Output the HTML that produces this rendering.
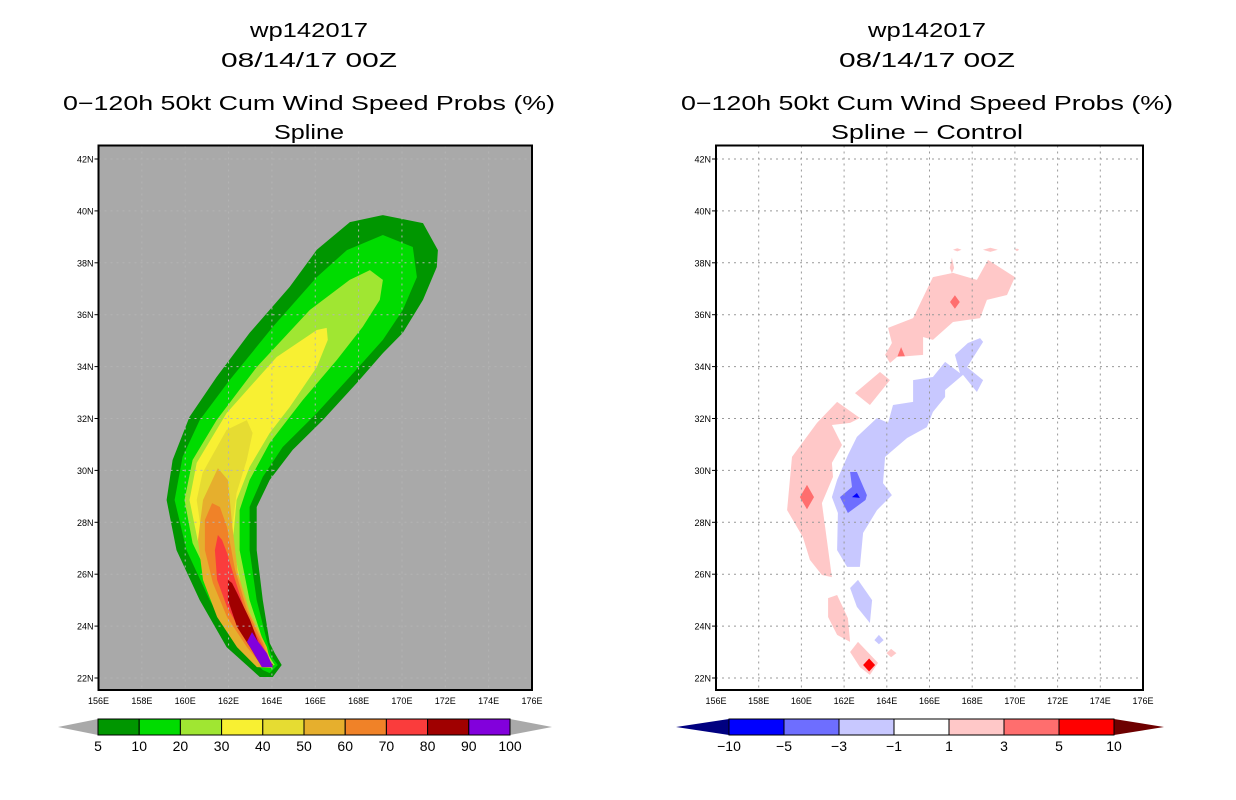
<!DOCTYPE html>
<html><head><meta charset="utf-8"><style>
html,body{margin:0;padding:0;background:#fff;}
svg{display:block;font-family:"Liberation Sans",sans-serif;}
</style></head><body>
<svg id="s" width="1236" height="800" viewBox="0 0 1236 800" xmlns="http://www.w3.org/2000/svg">
<g font-size="20" text-anchor="middle" fill="#000">
<text x="309" y="37" textLength="118" lengthAdjust="spacingAndGlyphs">wp142017</text>
<text x="309" y="67" textLength="176" lengthAdjust="spacingAndGlyphs">08/14/17 00Z</text>
<text x="309" y="110" textLength="492" lengthAdjust="spacingAndGlyphs">0−120h 50kt Cum Wind Speed Probs (%)</text>
<text x="309" y="139" textLength="70" lengthAdjust="spacingAndGlyphs">Spline</text>
</g>
<g font-size="20" text-anchor="middle" fill="#000">
<text x="927" y="37" textLength="118" lengthAdjust="spacingAndGlyphs">wp142017</text>
<text x="927" y="67" textLength="176" lengthAdjust="spacingAndGlyphs">08/14/17 00Z</text>
<text x="927" y="110" textLength="492" lengthAdjust="spacingAndGlyphs">0−120h 50kt Cum Wind Speed Probs (%)</text>
<text x="927" y="139" textLength="192" lengthAdjust="spacingAndGlyphs">Spline − Control</text>
</g>
<g id="L"></g>
<g id="R"></g>
</svg>
<script>
const latTicks=[22,24,26,28,30,32,34,36,38,40,42];
const lonTicks=[156,158,160,162,164,166,168,170,172,174,176];
const leftLevels=["5","10","20","30","40","50","60","70","80","90","100"];
const leftColors=["#009600","#00dc00","#a0e632","#f8f032","#e6dc32","#e6af2d","#f08228","#fa3c3c","#a00000","#8200dc"];
const rightLevels=["−10","−5","−3","−1","1","3","5","10"];
const rightColors=["#0000ff","#6e6eff","#c8c8ff","#ffffff","#ffc8c8","#ff6e6e","#ff0000"];
// probability contours (lon,lat)
const p5=[[164.45,22.5],[164.04,22.04],[163.44,22.04],[161.91,23.19],[160.67,25.0],[159.6,26.93],[159.14,28.86],[159.42,30.4],[160.2,32.06],[161.45,33.6],[162.97,35.3],[164.82,37.07],[166.07,38.5],[167.6,39.57],[169.12,39.84],[170.97,39.53],[171.66,38.49],[171.61,37.84],[170.97,36.57],[170.04,35.3],[169.12,34.52],[167.92,33.37],[166.35,31.94],[164.96,30.79],[163.9,29.63],[163.3,28.59],[163.3,26.93],[163.58,25.0],[163.9,23.35],[164.13,22.96]];
const p10=[[164.27,22.5],[163.9,22.19],[163.58,22.31],[162.19,23.46],[161.13,25.0],[160.06,26.93],[159.51,28.86],[159.88,30.52],[160.67,31.94],[162.05,33.48],[164.04,35.53],[166.07,37.45],[167.46,38.49],[169.12,39.07],[170.5,38.61],[170.69,37.45],[170.04,36.18],[169.12,35.03],[167.59,33.6],[166.07,32.21],[164.5,30.9],[163.58,29.75],[162.97,28.59],[162.97,26.93],[163.3,25.0],[163.76,23.46],[163.99,22.81]];
const p20=[[164.13,22.5],[163.58,22.42],[162.51,23.73],[161.45,25.28],[160.34,27.2],[159.97,28.86],[160.34,30.4],[161.45,31.94],[163.3,33.98],[165.75,36.18],[167.59,37.34],[168.52,37.72],[169.12,37.34],[168.98,36.57],[168.19,35.53],[166.99,34.25],[165.42,32.71],[163.9,31.06],[162.97,29.63],[162.51,28.47],[162.51,26.93],[162.97,25.0],[163.58,23.46],[163.9,22.81]];
const p30=[[164.04,22.5],[163.67,22.5],[162.65,23.85],[161.59,25.39],[160.57,27.32],[160.2,28.86],[160.53,30.29],[161.91,32.21],[164.22,34.37],[166.07,35.41],[166.53,35.49],[166.58,35.03],[166.07,33.98],[164.82,32.44],[163.9,31.44],[162.97,30.13],[162.37,28.86],[162.19,27.2],[162.65,25.28],[163.44,23.46],[163.81,22.81]];
const p40=[[164.02,22.42],[163.6,22.42],[162.84,23.97],[161.73,25.51],[160.8,27.32],[160.53,28.86],[160.8,29.9],[161.91,31.56],[162.84,31.94],[163.11,31.44],[162.84,30.4],[162.37,29.13],[162.14,27.59],[162.51,25.39],[163.3,23.73],[163.9,22.8]];
const p50=[[161.51,30.09],[160.82,28.86],[160.59,27.32],[160.82,25.78],[161.47,24.35],[162.39,23.19],[163.31,22.42],[164.0,22.39],[163.77,23.19],[162.99,24.5],[162.43,26.05],[162.16,27.97],[161.97,29.63]];
const p60=[[161.24,28.74],[160.91,28.09],[160.91,26.93],[161.28,25.66],[161.93,24.35],[162.85,23.19],[163.59,22.42],[164.0,22.42],[163.59,23.35],[162.85,24.62],[162.3,26.16],[161.93,27.82],[161.6,28.59]];
const p70=[[161.51,27.51],[161.37,26.93],[161.47,25.78],[161.93,24.74],[162.62,23.73],[163.45,22.69],[164.05,22.42],[163.59,23.19],[162.85,24.35],[162.3,25.78],[161.93,26.82],[161.7,27.32]];
const p80=[[161.97,25.78],[161.97,25.01],[162.39,23.97],[162.99,23.19],[163.54,22.42],[164.05,22.5],[163.45,23.19],[162.99,24.24],[162.39,25.28],[162.16,25.66]];
const p90=[[163.08,23.77],[162.85,23.39],[163.54,22.42],[164.05,22.42],[163.77,22.96],[163.31,23.46]];
// difference contours (lon,lat)
const dPos1a=[[161.67,32.64],[162.74,32.02],[162.28,31.83],[161.43,31.75],[161.9,30.98],[161.43,30.29],[161.48,29.75],[160.96,28.74],[161.43,25.89],[160.96,25.97],[160.4,26.55],[160.07,27.43],[159.33,28.47],[159.56,30.52],[160.73,31.83]];
const dPos1b=[[163.68,33.79],[164.15,33.48],[163.21,32.52],[162.51,32.98]];
const dPos1c=[[164.06,35.49],[165.23,35.87],[166.16,37.45],[167.1,37.61],[168.22,37.34],[168.74,38.11],[170.0,37.45],[169.63,36.76],[168.69,36.57],[168.37,35.87],[167.1,35.72],[166.16,35.03],[165.7,35.14],[165.7,34.45],[164.48,34.37],[164.15,34.14],[163.92,34.45],[164.24,34.91]];
const dPos1d=[[161.25,25.08],[161.67,25.2],[162.18,24.31],[162.28,23.39],[161.67,23.66],[161.25,24.35]];
const dPos1e=[[162.28,23.0],[162.65,23.39],[163.59,22.58],[163.21,22.12],[162.74,22.42]];
const dPos1f=[[164.2,23.12],[164.45,22.96],[164.2,22.8],[163.98,22.96]];
const dPos1g=[[168.85,38.58],[169.2,38.5],[168.85,38.42],[168.5,38.5]];
const dPos1h=[[167.3,38.56],[167.5,38.5],[167.3,38.44],[167.1,38.5]];
const dPos1i=[[167.05,38.2],[167.15,37.8],[167.05,37.6],[166.95,37.8]];
const dPos1j=[[170.1,38.55],[170.2,38.5],[170.1,38.45],[170.0,38.5]];
const dPos3a=[[167.19,36.75],[167.42,36.49],[167.19,36.23],[166.96,36.49]];
const dPos3b=[[164.67,34.75],[164.85,34.4],[164.5,34.4]];
const dPos3c=[[160.26,29.44],[160.59,28.97],[160.26,28.5],[159.93,28.97]];
const dPos5a=[[163.17,22.75],[163.45,22.5],[163.17,22.25],[162.89,22.5]];
const dNeg1a=[[168.37,35.1],[168.51,34.95],[167.76,33.98],[168.51,33.48],[168.22,33.02],[167.57,33.68],[166.73,33.1],[166.73,32.83],[166.16,32.25],[165.88,31.67],[164.95,31.25],[163.92,30.52],[163.82,29.51],[164.24,29.05],[163.54,28.47],[162.89,27.59],[162.74,26.28],[162.14,26.28],[161.67,26.93],[161.71,28.36],[161.43,28.97],[161.67,29.63],[162.18,30.59],[162.6,31.29],[163.54,32.02],[164.06,31.83],[164.29,32.52],[165.23,32.64],[165.23,33.48],[166.16,33.6],[166.73,34.18],[167.43,33.75],[167.19,34.45],[167.8,34.91]];
const dNeg1b=[[162.65,25.78],[163.31,25.0],[163.21,24.12],[162.6,24.74],[162.28,25.47]];
const dNeg1c=[[163.63,23.66],[163.85,23.46],[163.63,23.3],[163.42,23.46]];
const dNeg3a=[[162.28,29.94],[162.6,29.94],[163.07,29.05],[163.0,28.86],[162.18,28.36],[161.81,28.97],[162.37,29.36]];
const dNeg5a=[[162.37,28.97],[162.6,29.13],[162.74,28.94]];

const NS="http://www.w3.org/2000/svg";
function mk(tag,attrs,parent){const e=document.createElementNS(NS,tag);for(const k in attrs)e.setAttribute(k,attrs[k]);parent.appendChild(e);return e;}
function axes(x0,x1){const y0=145.5,yb=690;
 return {x:lon=>x0+(lon-156)/20*(x1-x0), y:lat=>678-(lat-22)*25.95, x0:x0,x1:x1,y0:y0,y1:yb};}
const A=axes(98.5,532), B=axes(716,1143);
function poly(ax,pts,fill,parent,name){
 const p=mk('polygon',{points:pts.map(q=>ax.x(q[0]).toFixed(1)+','+ax.y(q[1]).toFixed(1)).join(' '),fill:fill},parent);
 
 
}
function frame(ax,g,bg,side){
 const r=mk('rect',{x:ax.x0,y:ax.y0,width:ax.x1-ax.x0,height:ax.y1-ax.y0,fill:bg},g);
 
 
}
function grid(ax,g,color,side){
 const gg=mk('g',{stroke:color,'stroke-width':1,'stroke-dasharray':'2,4'},g);
 
 
 lonTicks.slice(1,-1).forEach(l=>{mk('line',{x1:ax.x(l),x2:ax.x(l),y1:ax.y0,y2:ax.y1},gg);});
 latTicks.forEach(l=>{mk('line',{x1:ax.x0,x2:ax.x1,y1:ax.y(l),y2:ax.y(l)},gg);});
}
function border(ax,g,side){
 const r=mk('rect',{x:ax.x0,y:ax.y0,width:ax.x1-ax.x0,height:ax.y1-ax.y0,fill:'none',stroke:'#000','stroke-width':2},g);
 
 
 const tg=mk('g',{'font-size':9,fill:'#000'},g);
 
 
 latTicks.forEach(l=>{
  mk('line',{x1:ax.x0-4,x2:ax.x0,y1:ax.y(l),y2:ax.y(l),stroke:'#000'},tg);
  const t=mk('text',{x:ax.x0-5,y:ax.y(l)+3.5,'text-anchor':'end'},tg);t.textContent=l+'N';
  
  
 });
 lonTicks.forEach(l=>{
  const t=mk('text',{x:ax.x(l),y:ax.y1+14,'text-anchor':'middle'},tg);t.textContent=l+'E';
  
  
 });
}
// LEFT
const L=document.getElementById('L');
frame(A,L,'#a9a9a9','left');
[p5,p10,p20,p30,p40,p50,p60,p70,p80,p90].forEach((p,i)=>poly(A,p,leftColors[i],L,'contour-'+leftLevels[i]+'pct'));
grid(A,L,'#b4b4b4','left');
border(A,L,'left');
// RIGHT
const R=document.getElementById('R');
frame(B,R,'#ffffff','right');
[dPos1a,dPos1b,dPos1c,dPos1d,dPos1e,dPos1f,dPos1g,dPos1h,dPos1i,dPos1j].forEach(p=>poly(B,p,'#ffc8c8',R,'diff-pos-1-3'));
[dPos3a,dPos3b,dPos3c].forEach(p=>poly(B,p,'#ff6e6e',R,'diff-pos-3-5'));
[dPos5a].forEach(p=>poly(B,p,'#ff0000',R,'diff-pos-5-10'));
[dNeg1a,dNeg1b,dNeg1c].forEach(p=>poly(B,p,'#c8c8ff',R,'diff-neg-1-3'));
[dNeg3a].forEach(p=>poly(B,p,'#6e6eff',R,'diff-neg-3-5'));
[dNeg5a].forEach(p=>poly(B,p,'#0000ff',R,'diff-neg-5-10'));
grid(B,R,'#999','right');
border(B,R,'right');
// colorbars
function colorbar(g,x0,x1,tipL,tipR,colors,labels,lc,rc,side){
 const cb=mk('g',{},g);
 
 
 const y0=719,y1=735,n=colors.length,w=(x1-x0)/n;
 mk('polygon',{points:`${tipL},727 ${x0},${y0} ${x0},${y1}`,fill:lc},cb);
 mk('polygon',{points:`${tipR},727 ${x1},${y0} ${x1},${y1}`,fill:rc},cb);
 colors.forEach((c,i)=>{
  const r=mk('rect',{x:x0+i*w,y:y0,width:w,height:y1-y0,fill:c,stroke:'#000','stroke-width':1},cb);
  
  
 });
 const off=labels.length===n+1?0:1;
 labels.forEach((t,i)=>{
  const e=mk('text',{x:x0+(i+off)*w,y:751,'text-anchor':'middle','font-size':14,fill:'#000'},cb);e.textContent=t;
  
  
 });
}
colorbar(L,98,510,58,552,leftColors,leftLevels,'#a9a9a9','#a9a9a9','left');
colorbar(R,729,1114,676,1164,rightColors,rightLevels,'#000080','#6e0000','right');
</script>
</body></html>
